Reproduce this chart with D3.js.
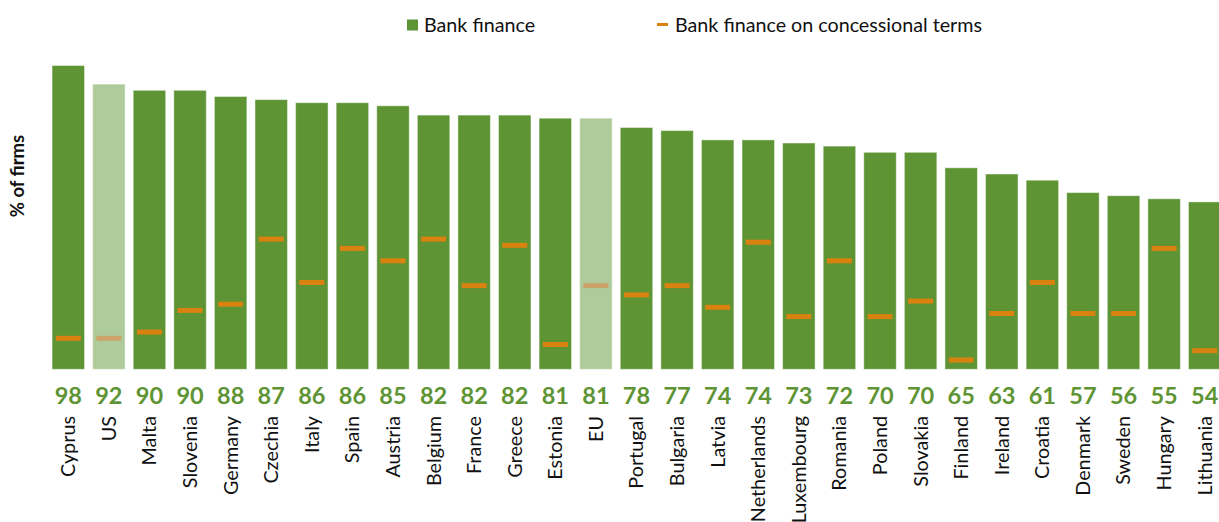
<!DOCTYPE html>
<html>
<head>
<meta charset="utf-8">
<script src="https://cdn.jsdelivr.net/npm/d3@7"></script>
<style>
  body { margin: 0; background: #fff; }
  svg { display: block; font-family: Lato, "Open Sans", sans-serif; }
</style>
</head>
<body>
<svg id="chart"></svg>
<script>
// data
const countries = ['Cyprus', 'US', 'Malta', 'Slovenia', 'Germany', 'Czechia', 'Italy', 'Spain',
  'Austria', 'Belgium', 'France', 'Greece', 'Estonia', 'EU', 'Portugal', 'Bulgaria', 'Latvia',
  'Netherlands', 'Luxembourg', 'Romania', 'Poland', 'Slovakia', 'Finland', 'Ireland', 'Croatia',
  'Denmark', 'Sweden', 'Hungary', 'Lithuania'];
const bankFinance = [98, 92, 90, 90, 88, 87, 86, 86, 85, 82, 82, 82, 81, 81, 78, 77, 74, 74,
  73, 72, 70, 70, 65, 63, 61, 57, 56, 55, 54];
const concessional = [10, 10, 12, 19, 21, 42, 28, 39, 35, 42, 27, 40, 8, 27, 24, 27, 20, 41,
  17, 35, 17, 22, 3, 18, 28, 18, 18, 39, 6];
const benchmarks = ['US', 'EU'];
const legendLabels = ['Bank finance', 'Bank finance on concessional terms'];

var width = 1219;
var height = 522;

var green = '#5e9434';
var lightGreen = '#afca9b';
var orange = '#d9820f';
var lightOrange = '#cca46a';

var svg = d3.select('#chart').attr('width', width).attr('height', height);

var x = d3.scaleBand()
  .domain(countries)
  .range([48, 1225])
  .paddingInner(0.2)
  .paddingOuter(0.1);

var y = d3.scaleLinear().domain([0, 100]).range([369.3, 59.3]);

var rows = countries.map(function (c, i) {
  return { country: c, bank: bankFinance[i], conc: concessional[i], bench: benchmarks.includes(c) };
});

// bars
svg.append('g')
  .selectAll('rect')
  .data(rows)
  .enter()
  .append('rect')
  .attr('x', function (d) { return x(d.country); })
  .attr('y', function (d) { return y(d.bank); })
  .attr('width', x.bandwidth())
  .attr('height', function (d) { return y(0) - y(d.bank); })
  .attr('fill', function (d) { return d.bench ? lightGreen : green; })
  .attr('stroke', 'rgba(255,255,255,0.45)')
  .attr('stroke-width', 1);

// concessional markers
var markW = 25;
var markH = 5;
svg.append('g')
  .selectAll('rect')
  .data(rows)
  .enter()
  .append('rect')
  .attr('x', function (d) { return x(d.country) + x.bandwidth() / 2 - markW / 2; })
  .attr('y', function (d) { return y(d.conc) - markH / 2; })
  .attr('width', markW)
  .attr('height', markH)
  .attr('fill', function (d) { return d.bench ? lightOrange : orange; });

// value labels
svg.append('g')
  .selectAll('text')
  .data(rows)
  .enter()
  .append('text')
  .attr('x', function (d) { return x(d.country) + x.bandwidth() / 2; })
  .attr('y', 404)
  .attr('text-anchor', 'middle')
  .style('font-size', '23.5px')
  .style('font-weight', 'bold')
  .style('fill', '#5e9434')
  .text(function (d) { return d.bank; });

// country labels
svg.append('g')
  .selectAll('text')
  .data(rows)
  .enter()
  .append('text')
  .attr('transform', function (d) {
    return 'translate(' + (x(d.country) + x.bandwidth() / 2) + ',416) rotate(-90)';
  })
  .attr('dy', '0.35em')
  .attr('text-anchor', 'end')
  .style('font-size', '19.8px')
  .style('fill', '#111')
  .text(function (d) { return d.country; });

// y axis title
svg.append('text')
  .attr('transform', 'translate(24,176) rotate(-90)')
  .attr('text-anchor', 'middle')
  .style('font-size', '18.5px')
  .style('font-weight', 'bold')
  .style('fill', '#111')
  .text('% of firms');

// legend
var legend = svg.append('g');
legend.append('rect')
  .attr('x', 407).attr('y', 19.5).attr('width', 11).attr('height', 11)
  .attr('fill', green);
legend.append('text')
  .attr('x', 424).attr('y', 31.5)
  .style('font-size', '19.7px').style('fill', '#111')
  .text(legendLabels[0]);
legend.append('rect')
  .attr('x', 657).attr('y', 23).attr('width', 11).attr('height', 3)
  .attr('fill', orange);
legend.append('text')
  .attr('x', 675).attr('y', 31.5)
  .style('font-size', '19.7px').style('fill', '#111')
  .text(legendLabels[1]);
</script>
</body>
</html>
